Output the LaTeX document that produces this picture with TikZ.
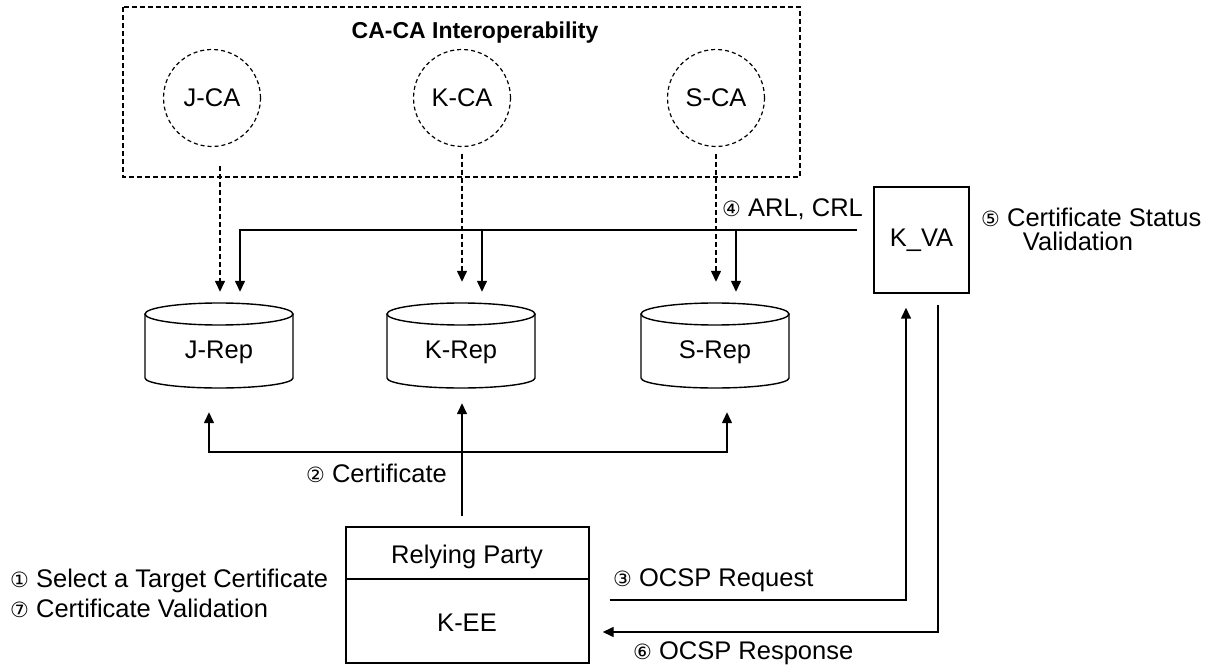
\documentclass[tikz,border=0pt]{standalone}
\usepackage{fontspec}
\setmainfont{Liberation Sans}
\newfontfamily\circledfont{DejaVu Sans}
\usetikzlibrary{arrows.meta}
\newcommand{\circnum}[1]{{\circledfont\fontsize{21}{21}\selectfont #1}}

\begin{document}
\begin{tikzpicture}[x=1pt, y=-1pt,
  every node/.style={font=\fontsize{25.5}{25.5}\selectfont, inner sep=0pt},
  wire/.style={line width=1.4pt},
  arr/.style={wire, -{Triangle[length=11pt,width=10pt]}},
  dasharr/.style={arr, dash pattern=on 5pt off 3pt},
  ca/.style={circle, draw, line width=1.2pt, dash pattern=on 4pt off 3pt, minimum size=97pt},
  repo/.style={rectangle, minimum width=148pt, minimum height=120pt},
  box/.style={rectangle, draw, line width=1.4pt},
  lbl/.style={anchor=base west},
]
\useasboundingbox (0,0) rectangle (1219,668);

% certification authorities
\draw[line width=1.2pt, dash pattern=on 5pt off 3pt] (123,7) rectangle (800,177);
\node[anchor=base, font=\fontsize{23}{23}\selectfont\bfseries] (title) at (475,39) {CA-CA Interoperability};
\node[ca] (jca) at (212,98) {J-CA};
\node[ca] (kca) at (462,98) {K-CA};
\node[ca] (sca) at (716,98) {S-CA};

% repositories
\foreach \nm/\cx/\txt in {jrep/219/J-Rep, krep/461/K-Rep, srep/715/S-Rep}{
  \node[repo] (\nm) at (\cx,352) {\txt};
  \draw[wire] (\cx,314) ellipse[x radius=74, y radius=11];
  \draw[wire] (\cx-74,314) -- (\cx-74,378)
    arc[start angle=180, end angle=0, x radius=74, y radius=10] -- (\cx+74,314);
}

% validation authority
\node[box, minimum width=95pt, minimum height=106pt] (kva) at (921.5,240) {K\_VA};

% relying party
\node[box, minimum width=243pt, minimum height=136pt] (rp) at (467.5,595) {};
\draw[wire] ([yshift=16pt]rp.west) -- ([yshift=16pt]rp.east);
\node[anchor=base] (rptitle) at (467,563) {Relying Party};
\node[anchor=base] (kee) at (467,631) {K-EE};

% publishing to repositories
\draw[dasharr] ([xshift=8pt,yshift=-19pt]jca.south) -- ([xshift=1pt]jrep.north);
\draw[dasharr] ([yshift=-7pt]kca.south) -- ([xshift=1pt,yshift=10pt]krep.north);
\draw[dasharr] ([yshift=-7pt]sca.south) -- ([xshift=1pt,yshift=10pt]srep.north);

\coordinate (arl) at ([xshift=-16pt,yshift=10pt]kva.west);
\draw[arr] (arl) -| ([xshift=21pt]jrep.north);
\draw[arr] ([xshift=21pt]krep.north |- arl) -- ([xshift=21pt]krep.north);
\draw[arr] ([xshift=21pt]srep.north |- arl) -- ([xshift=21pt]srep.north);
\node[lbl] (l4) at (722,217) {\circnum{④} ARL, CRL};

% certificate retrieval
\coordinate (cb) at (462,452);
\draw[arr] ([xshift=-5.5pt,yshift=10pt]rp.north) -- ([xshift=1pt,yshift=9pt]krep.south);
\draw[arr] (cb) -| ([xshift=-10pt]jrep.south);
\draw[arr] (cb) -| ([xshift=12pt]srep.south);
\node[anchor=base east] (l2) at (447,482) {\circnum{②} Certificate};

% OCSP exchange
\draw[arr] ([xshift=20pt,yshift=-5pt]rp.east) -| ([xshift=-15.5pt,yshift=-14pt]kva.south);
\draw[arr] ([xshift=16.5pt,yshift=-11pt]kva.south) |- ([xshift=13pt,yshift=-37pt]rp.east);
\node[lbl] (l3) at (613,586) {\circnum{③} OCSP Request};
\node[lbl] (l6) at (633,659) {\circnum{⑥} OCSP Response};

% step labels
\node[lbl] (l5a) at (981,227) {\circnum{⑤} Certificate Status};
\node[anchor=base] (l5b) at (1078,251) {Validation};
\node[lbl] (l1) at (10,587) {\circnum{①} Select a Target Certificate};
\node[lbl] (l7) at (10,617) {\circnum{⑦} Certificate Validation};
\end{tikzpicture}
\end{document}
